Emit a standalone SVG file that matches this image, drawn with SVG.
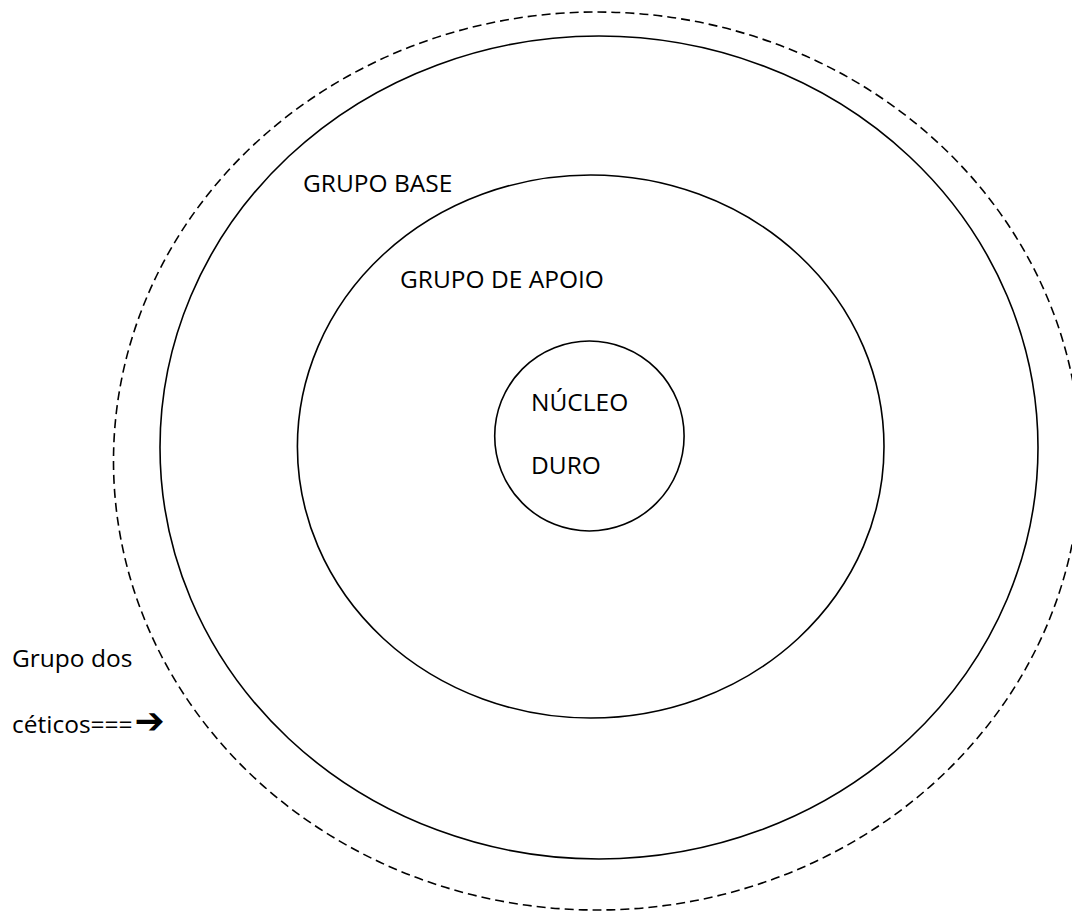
<svg xmlns="http://www.w3.org/2000/svg" width="1072" height="911" viewBox="0 0 1072 911">
<style>
.ring{fill:none;stroke:#000;stroke-width:1.6}
.dash{fill:none;stroke:#000;stroke-width:1.6;stroke-dasharray:9 5}
.lbl{font-family:"Open Sans","Liberation Sans",sans-serif;font-size:24.5px;fill:#000}
.arr{font-family:"DejaVu Sans",sans-serif;font-weight:bold}
</style>
<rect width="1072" height="911" fill="#fff"/>
<g id="ceticos">
<ellipse class="dash" cx="597" cy="461" rx="483.5" ry="449"/>
<text class="lbl" x="12" y="667">Grupo dos</text>
<text class="lbl" x="12" y="733">céticos===<tspan class="arr" font-size="36" dx="2">➔</tspan></text>
</g>
<g id="grupo-base">
<ellipse class="ring" cx="599" cy="447.5" rx="439" ry="411.5"/>
<text class="lbl" x="303" y="192">GRUPO BASE</text>
</g>
<g id="grupo-apoio">
<ellipse class="ring" cx="590.7" cy="446.5" rx="293.3" ry="271.5"/>
<text class="lbl" x="400" y="288">GRUPO DE APOIO</text>
</g>
<g id="nucleo-duro">
<ellipse class="ring" cx="589.4" cy="436" rx="94.7" ry="95"/>
<text class="lbl" x="531" y="411">NÚCLEO</text>
<text class="lbl" x="531" y="474">DURO</text>
</g>
<g id="connectors"></g>
</svg>
